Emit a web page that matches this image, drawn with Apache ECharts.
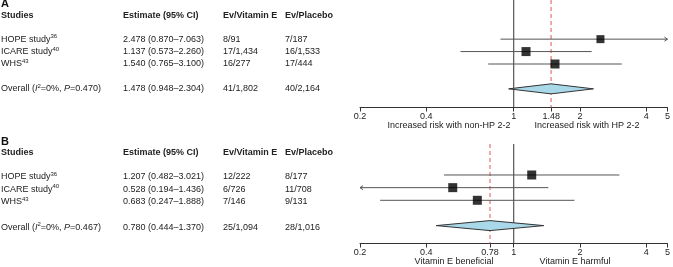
<!DOCTYPE html>
<html>
<head>
<meta charset="utf-8">
<script src="https://cdn.jsdelivr.net/npm/echarts@6/dist/echarts.min.js"></script>
<style>
    html, body {margin: 0; padding: 0; background: #fff;}
    #main {width: 673px; height: 267px;}
</style>
</head>
<body>
<div id="main"></div>
<script>
'use strict';

//研究
const studyNames = ['HOPE study', 'ICARE study', 'WHS'];
const studyRefs = ['36', '40', '43'];
const studyRows = [1, 2, 3];
const overallRow = 5;
const headers = ['Studies', 'Estimate (95% CI)', 'Ev/Vitamin E', 'Ev/Placebo'];

//A
const estA = [2.478, 1.137, 1.540];
const lowA = [0.870, 0.573, 0.765];
const highA = [7.063, 2.260, 3.100];
const evVitA = ['8/91', '17/1,434', '16/277'];
const evPlacA = ['7/187', '16/1,533', '17/444'];
const overallA = [1.478, 0.948, 2.304];
const overallEvA = ['41/1,802', '40/2,164'];
const overallPA = '0.470';
const ticksA = [0.2, 0.4, 1, 1.48, 2, 4, 5];
const sideLabelsA = ['Increased risk with non-HP 2-2', 'Increased risk with HP 2-2'];

//B
const estB = [1.207, 0.528, 0.683];
const lowB = [0.482, 0.194, 0.247];
const highB = [3.021, 1.436, 1.888];
const evVitB = ['12/222', '6/726', '7/146'];
const evPlacB = ['8/177', '11/708', '9/131'];
const overallB = [0.780, 0.444, 1.370];
const overallEvB = ['25/1,094', '28/1,016'];
const overallPB = '0.467';
const ticksB = [0.2, 0.4, 0.78, 1, 2, 4, 5];
const sideLabelsB = ['Vitamin E beneficial', 'Vitamin E harmful'];

const xMin = 0.2, xMax = 5;
const FONT = '"Liberation Sans", Arial, sans-serif';

//布局
const panels = [
    {
        letter: 'A', top: 0, height: 107.5, yMin: -2.15, yMax: 6.5, refTop: -2.15, textShift: 0, letterShift: -12,
        est: estA, low: lowA, high: highA, evVit: evVitA, evPlac: evPlacA,
        overall: overallA, overallEv: overallEvA, overallP: overallPA,
        ticks: ticksA, side: sideLabelsA, sideX: [449, 587], sizes: [8, 9, 9]
    },
    {
        letter: 'B', top: 130, height: 113.5, yMin: -2.557, yMax: 6.415, refTop: -1.45, textShift: 1.5, letterShift: -10,
        est: estB, low: lowB, high: highB, evVit: evVitB, evPlac: evPlacB,
        overall: overallB, overallEv: overallEvB, overallP: overallPB,
        ticks: ticksB, side: sideLabelsB, sideX: [454, 575], sizes: [9, 9, 9]
    }
];

const colX = [1, 123, 223, 285];

let chart = echarts.init(document.getElementById('main'));

function fmt(v) {
    return String(+v.toFixed(2));
}

//置信区间线
function ciRender(params, api) {
    let lo = api.value(1), hi = api.value(2), row = api.value(3);
    let p1 = api.coord([Math.max(lo, xMin), row]);
    let p2 = api.coord([Math.min(hi, xMax), row]);
    let children = [{
        type: 'line',
        shape: {x1: p1[0], y1: p1[1], x2: p2[0], y2: p2[1]},
        style: {stroke: '#555', lineWidth: 1}
    }];
    if (hi > xMax) {
        children.push({
            type: 'polyline',
            shape: {points: [[p2[0] - 3, p2[1] - 2], [p2[0], p2[1]], [p2[0] - 3, p2[1] + 2]]},
            style: {stroke: '#555', lineWidth: 1, fill: null}
        });
    }
    if (lo < xMin) {
        children.push({
            type: 'polyline',
            shape: {points: [[p1[0] + 3, p1[1] - 2], [p1[0], p1[1]], [p1[0] + 3, p1[1] + 2]]},
            style: {stroke: '#555', lineWidth: 1, fill: null}
        });
    }
    return {type: 'group', children: children};
}

//菱形
function diamondRender(params, api) {
    let est = api.value(0), lo = api.value(1), hi = api.value(2), row = api.value(3);
    let c = api.coord([est, row]);
    let l = api.coord([lo, row]);
    let r = api.coord([hi, row]);
    let h = 5;
    return {
        type: 'polygon',
        shape: {points: [[l[0], c[1]], [c[0], c[1] - h], [r[0], c[1]], [c[0], c[1] + h]]},
        style: {fill: '#a9d8e8', stroke: '#333', lineWidth: 1}
    };
}

//参考线
function refRender(params, api) {
    let x = api.value(0), top = api.value(1), bottom = api.value(2);
    let solid = api.value(3) === 1;
    let a = api.coord([x, top]);
    let b = api.coord([x, bottom]);
    return {
        type: 'line',
        shape: {x1: a[0], y1: a[1], x2: b[0], y2: b[1]},
        style: solid ? {stroke: '#333', lineWidth: 1} : {stroke: '#e05555', lineWidth: 1, lineDash: [4, 3]}
    };
}

let grid = [], xAxis = [], yAxis = [], series = [];

panels.forEach(function (p, i) {
    grid.push({left: 360, width: 311, top: p.top, height: p.height});
    xAxis.push({
        type: 'log', logBase: 10, gridIndex: i, min: xMin, max: xMax,
        axisLine: {onZero: false, lineStyle: {color: '#333', width: 1}},
        axisTick: {inside: false, length: 4, lineStyle: {color: '#333'}, customValues: p.ticks},
        axisLabel: {
            customValues: p.ticks, margin: 5, fontSize: 9, color: '#222', fontFamily: FONT,
            formatter: fmt
        },
        splitLine: {show: false},
        minorTick: {show: false}
    });
    yAxis.push({
        type: 'value', gridIndex: i, inverse: true, min: p.yMin, max: p.yMax, show: false
    });

    series.push({
        type: 'custom', xAxisIndex: i, yAxisIndex: i, renderItem: refRender,
        data: [[1, p.refTop, p.yMax, 1], [p.overall[0], p.refTop, p.yMax, 0]],
        encode: {x: 0, y: 1}, z: 1, silent: true
    });
    series.push({
        type: 'custom', xAxisIndex: i, yAxisIndex: i, renderItem: ciRender,
        data: p.est.map(function (e, k) {
            return [e, p.low[k], p.high[k], studyRows[k]];
        }),
        encode: {x: 0, y: 3}, z: 2, silent: true
    });
    series.push({
        type: 'scatter', xAxisIndex: i, yAxisIndex: i, symbol: 'rect',
        symbolSize: function (val, params) {
            return p.sizes[params.dataIndex];
        },
        itemStyle: {color: '#000'},
        data: p.est.map(function (e, k) {
            return [e, studyRows[k]];
        }),
        z: 4, silent: true
    });
    series.push({
        type: 'custom', xAxisIndex: i, yAxisIndex: i, renderItem: diamondRender,
        data: [[p.overall[0], p.overall[1], p.overall[2], overallRow]], encode: {x: 0, y: 3}, z: 3, silent: true
    });
});

chart.setOption({
    animation: false,
    grid: grid,
    xAxis: xAxis,
    yAxis: yAxis,
    series: series
});

//表格文字
let rich = {
    n: {fontSize: 9, fontFamily: FONT, color: '#222', lineHeight: 11},
    i: {fontSize: 9, fontFamily: FONT, color: '#222', lineHeight: 11, fontStyle: 'italic'},
    s: {fontSize: 6, fontFamily: FONT, color: '#222', lineHeight: 6, verticalAlign: 'top'}
};

function txt(x, y, text, extra) {
    let style = {
        text: text, x: x, y: y, verticalAlign: 'middle', align: 'left',
        fontSize: 9, fontFamily: FONT, fill: '#222', rich: rich
    };
    Object.assign(style, extra || {});
    return {type: 'text', silent: true, style: style};
}

function ciStr(e, lo, hi) {
    return e.toFixed(3) + ' (' + lo.toFixed(3) + '–' + hi.toFixed(3) + ')';
}

let graphic = [];
panels.forEach(function (p, i) {
    let rowY = function (v) {
        return chart.convertToPixel({gridIndex: i}, [1, v])[1] + p.textShift;
    };
    let hy = rowY(-0.9);
    graphic.push(txt(colX[0], hy + p.letterShift, p.letter, {fontSize: 11, fontWeight: 'bold', fill: '#111', rich: null}));
    headers.forEach(function (h, k) {
        graphic.push(txt(colX[k], hy, h, {fontWeight: 'bold', rich: null}));
    });
    studyNames.forEach(function (name, k) {
        let y = rowY(studyRows[k]);
        graphic.push(txt(colX[0], y, '{n|' + name + '}{s|' + studyRefs[k] + '}'));
        graphic.push(txt(colX[1], y, ciStr(p.est[k], p.low[k], p.high[k])));
        graphic.push(txt(colX[2], y, p.evVit[k]));
        graphic.push(txt(colX[3], y, p.evPlac[k]));
    });
    let oy = rowY(overallRow);
    graphic.push(txt(colX[0], oy, '{n|Overall (}{i|I}{s|2}{n|=0%, }{i|P}{n|=' + p.overallP + ')}'));
    graphic.push(txt(colX[1], oy, ciStr(p.overall[0], p.overall[1], p.overall[2])));
    graphic.push(txt(colX[2], oy, p.overallEv[0]));
    graphic.push(txt(colX[3], oy, p.overallEv[1]));

    //坐标轴下方说明
    let sy = p.top + p.height + 18;
    p.side.forEach(function (s, k) {
        graphic.push(txt(p.sideX[k], sy, s, {align: 'center', rich: null}));
    });
});

chart.setOption({graphic: graphic});
</script>
</body>
</html>
